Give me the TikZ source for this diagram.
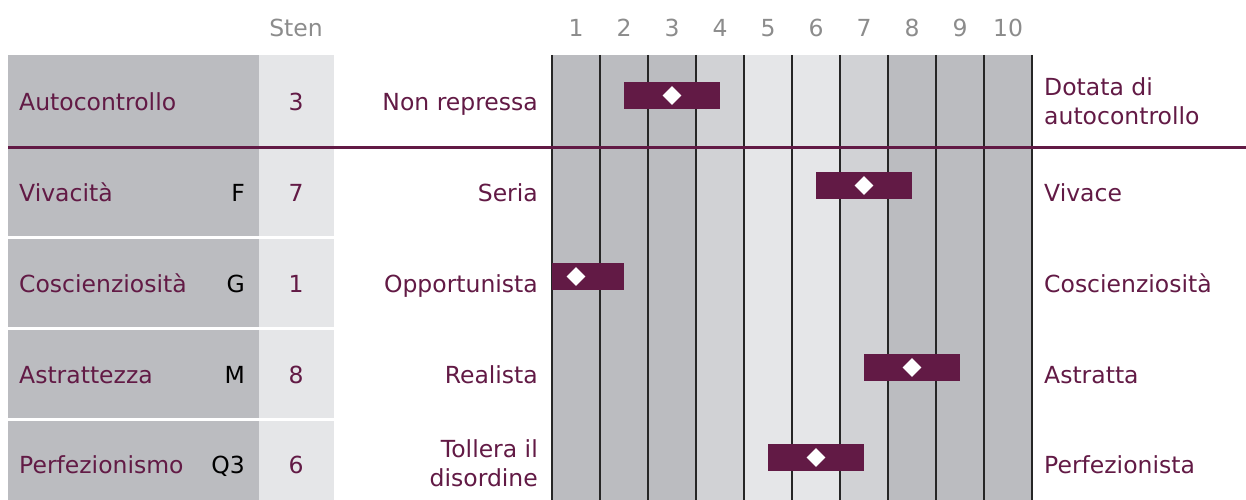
\documentclass[tikz,border=0pt]{standalone}
\usepackage{fontspec}
\setmainfont{DejaVu Sans}
\usepackage{tikz}
\usetikzlibrary{shapes.geometric}
\definecolor{plum}{HTML}{621A45}
\definecolor{darkcol}{HTML}{BBBCC0}
\definecolor{midcol}{HTML}{D1D2D5}
\definecolor{lightcol}{HTML}{E5E6E8}
\definecolor{headgray}{HTML}{8C8C8C}

\begin{document}
\begin{tikzpicture}[x=1pt,y=-1pt,
        every node/.style={inner sep=0pt, font=\fontsize{23.5}{29.5}\selectfont},
        lbl/.style={text=plum},
        head/.style={text=headgray, anchor=base},
        gridline/.style={black!85, line width=1.3pt},
        marker/.style={diamond, fill=white, minimum size=19pt}]
        \useasboundingbox (0,0) rectangle (1246,500);
        % Column shading and sten header
        \foreach \k/\c in {1/darkcol,2/darkcol,3/darkcol,4/midcol,5/lightcol,6/lightcol,7/midcol,8/darkcol,9/darkcol,10/darkcol} {
            \fill[\c] ({504+48*\k},55) rectangle ({552+48*\k},500);
            \node[head] (n\k) at ({528+48*\k},36.5) {\k};
        }
        \node[head] (sten) at (296,36.5) {Sten};
        % Grid lines
        \foreach \k in {0,...,10} {
            \draw[gridline] ({552+48*\k},55) -- ({552+48*\k},500);
        }
        % Factor boxes
        \foreach \i/\top/\bot/\base/\name/\fac/\sten in {
            1/55/145.5/110.5/Autocontrollo//3,
            2/149/236/201.5/Vivacità/F/7,
            3/239/327/292/Coscienziosità/G/1,
            4/330/418/383/Astrattezza/M/8,
            5/421/500/473.5/Perfezionismo/Q3/6} {
                \fill[darkcol] (8,\top) rectangle (259,\bot);
                \fill[lightcol] (259,\top) rectangle (334,\bot);
                \node[lbl, anchor=base west] (name\i) at (19,\base) {\name};
                \node[anchor=base east] (fac\i) at (245,\base) {\fac};
                \node[lbl, anchor=base] (sten\i) at (296,\base) {\sten};
        }
        \draw[plum, line width=3pt] (8,147.3) -- (1246,147.3);
        % Scores
        \foreach \i/\s/\bc in {1/3/95.5, 2/7/185.5, 3/1/276.5, 4/8/367.5, 5/6/457.5} {
            \fill[plum] ({max(552,480+48*\s)},{\bc-13.5}) rectangle ({min(1032,576+48*\s)},{\bc+13.5});
            \node[marker] (score\i) at ({528+48*\s},\bc) {};
        }
        % Pole labels
        \node[lbl, anchor=base east] (lo1) at (538,110.5) {Non repressa};
        \node[lbl, anchor=base east] (lo2) at (538,201.5) {Seria};
        \node[lbl, anchor=base east] (lo3) at (538,292) {Opportunista};
        \node[lbl, anchor=base east] (lo4) at (538,383) {Realista};
        \node[lbl, anchor=north east, align=right] (lo5) at (538,439) {Tollera il\\disordine};
        \node[lbl, anchor=north west, align=left] (hi1) at (1044,77) {Dotata di\\autocontrollo};
        \node[lbl, anchor=base west] (hi2) at (1044,201.5) {Vivace};
        \node[lbl, anchor=base west] (hi3) at (1044,292) {Coscienziosità};
        \node[lbl, anchor=base west] (hi4) at (1044,383) {Astratta};
        \node[lbl, anchor=base west] (hi5) at (1044,473.5) {Perfezionista};
\end{tikzpicture}
\end{document}
